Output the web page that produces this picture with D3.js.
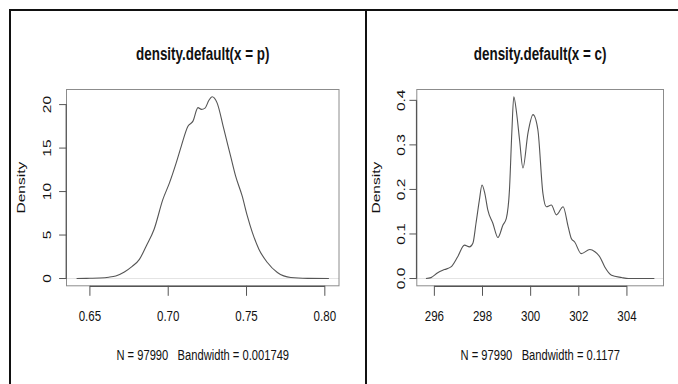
<!DOCTYPE html>
<html><head><meta charset="utf-8">
<script src="https://cdn.jsdelivr.net/npm/d3@7"></script>
<style>
html,body{margin:0;padding:0;background:#fff;}
svg{display:block;}
text{font-family:"Liberation Sans",Arial,Helvetica,sans-serif;white-space:pre;}
</style></head>
<body>
<script>
// ---- data ----
const pX = [0.6415,0.650,0.656,0.662,0.6665,0.672,0.677,0.6816,0.686,0.691,0.6966,0.7008,0.7051,0.7083,0.7126,0.7158,0.719,0.7212,0.7235,0.726,0.728,0.7312,0.7355,0.7398,0.743,0.7472,0.7505,0.7537,0.7579,0.7633,0.7697,0.7783,0.789,0.8026];
const pY = [0,0.03,0.06,0.15,0.3,0.76,1.4,2.2,3.75,5.67,9.1,11.0,13.3,15.2,17.5,18.1,19.65,19.45,19.6,20.5,20.9,20.2,17.2,14.1,11.8,9.5,7.2,5.3,3.37,1.84,0.69,0.11,0.02,0];
const cX = [295.65,295.86,296.14,296.42,296.69,296.97,297.25,297.46,297.6,297.73,297.87,297.98,298.1,298.22,298.43,298.64,298.85,298.99,299.12,299.22,299.3,299.42,299.54,299.68,299.89,300.1,300.3,300.51,300.65,300.86,301.07,301.35,301.56,301.69,301.83,302.1,302.46,302.67,302.87,303.08,303.36,303.78,304.06,304.6,305.14];
const cY = [0,0.002,0.013,0.02,0.026,0.049,0.075,0.071,0.079,0.124,0.176,0.21,0.19,0.154,0.124,0.092,0.12,0.135,0.199,0.33,0.408,0.37,0.311,0.248,0.327,0.368,0.334,0.191,0.161,0.165,0.143,0.161,0.116,0.09,0.082,0.056,0.065,0.06,0.049,0.026,0.0075,0.0023,0,0,0];
const pTicksX = [0.65,0.70,0.75,0.80];
const pTicksY = [0,5,10,15,20];
const cTicksX = [296,298,300,302,304];
const cTicksY = [0,0.1,0.2,0.3,0.4];
const titles = ["density.default(x = p)","density.default(x = c)"];
const subs = ["N = 97990   Bandwidth = 0.001749","N = 97990   Bandwidth = 0.1177"];
const yLabel = "Density";

// ---- layout ----
const W = 678, H = 384, SX = 0.745;
const svg = d3.select("body").append("svg").attr("width",W).attr("height",H);

const panels = [
  {xs:pX, ys:pY, tx:pTicksX, ty:pTicksY, fx:d3.format(".2f"), fy:d3.format("d"),
   left:66.5, right:339, ylabX:50.5, densX:24.5, title:titles[0], sub:subs[0]},
  {xs:cX, ys:cY, tx:cTicksX, ty:cTicksY, fx:d3.format("d"), fy:d3.format(".1f"),
   left:416.8, right:663.5, ylabX:405, densX:379.5, title:titles[1], sub:subs[1]}
];
const plotTop = 89.5, plotBottom = 285.8;

function label(g, x, y, s, size, weight, rot){
  g.append("text")
    .attr("transform", `translate(${x},${y}) scale(${SX},1)` + (rot ? " rotate(-90)" : ""))
    .attr("text-anchor","middle")
    .attr("xml:space","preserve")
    .attr("font-size", size)
    .attr("font-weight", weight)
    .attr("fill", "#111")
    .text(s);
}

panels.forEach(P => {
  const g = svg.append("g");
  const xe = d3.extent(P.xs), xp = (xe[1]-xe[0])*0.04;
  const ymax = d3.max(P.ys), yp = ymax*0.04;
  const x = d3.scaleLinear().domain([xe[0]-xp, xe[1]+xp]).range([P.left, P.right]);
  const y = d3.scaleLinear().domain([-yp, ymax+yp]).range([plotBottom, plotTop]);

  // zero line
  g.append("line").attr("x1",P.left).attr("x2",P.right).attr("y1",y(0)).attr("y2",y(0))
    .attr("stroke","#e4e4e4").attr("stroke-width",1);

  // box
  g.append("rect").attr("x",P.left).attr("y",plotTop).attr("width",P.right-P.left).attr("height",plotBottom-plotTop)
    .attr("fill","none").attr("stroke","#8c8c8c").attr("stroke-width",1);

  // x axis
  const xa = g.append("g").attr("transform",`translate(0,${plotBottom})`);
  xa.append("line").attr("x1",x(P.tx[0])).attr("x2",x(P.tx[P.tx.length-1])).attr("y1",0.5).attr("y2",0.5)
    .attr("stroke","#555").attr("stroke-width",1.2);
  P.tx.forEach(t => {
    xa.append("line").attr("x1",x(t)).attr("x2",x(t)).attr("y1",0).attr("y2",10)
      .attr("stroke","#555").attr("stroke-width",1);
    label(xa, x(t), 35.5, P.fx(t), 15.5, "normal", false);
  });

  // y axis
  const ya = g.append("g").attr("transform",`translate(${P.left},0)`);
  ya.append("line").attr("x1",-0.3).attr("x2",-0.3).attr("y1",y(P.ty[0])).attr("y2",y(P.ty[P.ty.length-1]))
    .attr("stroke","#555").attr("stroke-width",1.2);
  P.ty.forEach(t => {
    ya.append("line").attr("x1",0).attr("x2",-7.4).attr("y1",y(t)).attr("y2",y(t))
      .attr("stroke","#555").attr("stroke-width",1);
  });
  P.ty.forEach(t => label(g, P.ylabX, y(t), P.fy(t), 15.5, "normal", true));

  // density curve
  const line = d3.line().x((d,i)=>x(P.xs[i])).y((d,i)=>y(P.ys[i])).curve(d3.curveMonotoneX);
  g.append("path").datum(P.xs).attr("d",line).attr("fill","none")
    .attr("stroke","#555").attr("stroke-width",1.1);

  // titles
  const cx = (P.left+P.right)/2;
  label(g, cx, 59.5, P.title, 18, "bold", false);
  label(g, cx, 360, P.sub, 15, "normal", false);
  label(g, P.densX, (plotTop+plotBottom)/2, yLabel, 15.5, "normal", true);
});

// outer frame lines
svg.append("rect").attr("x",9).attr("y",9).attr("width",W-9).attr("height",2).attr("fill","#111");
svg.append("rect").attr("x",9).attr("y",9).attr("width",2).attr("height",H-9).attr("fill","#111");
svg.append("rect").attr("x",365).attr("y",9).attr("width",2).attr("height",H-9).attr("fill","#111");
</script>
</body></html>
